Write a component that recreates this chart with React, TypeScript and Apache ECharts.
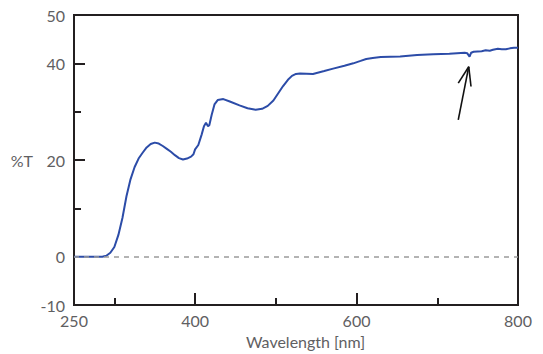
import React, { useEffect, useRef } from "react";
import * as echarts from "echarts";

const wavelengths = [
  250, 270, 285, 290, 295, 300, 305, 310, 315, 320, 325, 330, 335, 340, 345, 350,
  355, 360, 365, 370, 375, 380, 385, 390, 395, 398, 400, 404, 408, 411, 413.5, 416,
  417.6, 420.5, 424, 428, 435, 443, 455, 465, 475, 483, 490, 497, 503, 509, 515, 520,
  525, 530, 546, 560, 571, 585, 596, 605, 612, 620, 630, 654, 675, 695, 715, 734,
  737, 740, 742, 745, 755, 760, 765, 769, 775, 780, 785, 790, 795, 800,
];
const transmittance = [
  0, 0, 0, 0.2, 0.8, 2, 4.5, 8, 12.5, 16, 18.5, 20.3, 21.5, 22.6, 23.3, 23.6,
  23.4, 22.9, 22.3, 21.7, 21, 20.4, 20.1, 20.3, 20.7, 21.2, 22.2, 23.1, 25.2, 27, 27.7, 27.0,
  27.2, 29.3, 31.5, 32.4, 32.6, 32.1, 31.3, 30.7, 30.4, 30.6, 31.2, 32.3, 33.8, 35.3, 36.6, 37.4,
  37.8, 37.9, 37.8, 38.4, 38.9, 39.5, 40.0, 40.5, 40.9, 41.1, 41.3, 41.4, 41.7, 41.9, 42.0, 42.2,
  42.1, 41.4, 42.2, 42.4, 42.5, 42.7, 42.6, 42.8, 43.0, 42.9, 42.9, 43.1, 43.2, 43.2,
];

const xLabels = [250, 400, 600, 800];
const xMajorTicks = [400, 600];
const xMinorTicks = [300, 500, 700];
const yLabels = [-10, 0, 20, 40, 50];
const yMajorTicks = [20, 40];
const yMinorTicks = [10, 30];

// annotation arrow: shaft tail, tip, and two head wings (data coords)
const arrowTail = [726, 28.3];
const arrowTip = [739, 39.3];
const arrowWingL = [726, 35.9];
const arrowWingR = [741.8, 35.2];

const AXIS = "#231f20";
const TEXT = "#5f6062";
const FONT = "Lato";

export default function App() {
  const ref = useRef<HTMLDivElement>(null);
  useEffect(() => {
    if (!ref.current) return;
    const chart = echarts.init(ref.current, undefined, { renderer: "svg" });
    const data = wavelengths.map((w, i) => [w, transmittance[i]]);
    chart.setOption({
      animation: false,
      grid: {
        left: 74,
        right: 25,
        top: 15,
        bottom: 49,
        show: true,
        borderColor: AXIS,
        borderWidth: 2,
      },
      xAxis: [
        {
          type: "value",
          min: 250,
          max: 800,
          interval: 50,
          position: "bottom",
          axisLine: { show: true, onZero: false, lineStyle: { color: AXIS, width: 2 } },
          splitLine: { show: false },
          axisTick: {
            show: true,
            inside: true,
            length: 12,
            customValues: xMajorTicks,
            lineStyle: { color: AXIS, width: 2 },
          },
          axisLabel: {
            customValues: xLabels,
            color: TEXT,
            fontFamily: FONT,
            fontSize: 16,
            margin: 7,
          },
          name: "Wavelength [nm]",
          nameLocation: "middle",
          nameGap: 28,
          nameTextStyle: { color: TEXT, fontFamily: FONT, fontSize: 16, padding: [0, 0, 0, 19] },
        },
        {
          type: "value",
          min: 250,
          max: 800,
          interval: 50,
          position: "bottom",
          axisLine: { show: false, onZero: false },
          splitLine: { show: false },
          axisLabel: { show: false },
          axisTick: {
            show: true,
            inside: true,
            length: 7,
            customValues: xMinorTicks,
            lineStyle: { color: AXIS, width: 2 },
          },
        },
      ],
      yAxis: [
        {
          type: "value",
          min: -10,
          max: 50,
          interval: 10,
          axisLine: { show: true, onZero: false, lineStyle: { color: AXIS, width: 2 } },
          splitLine: { show: false },
          axisTick: {
            show: true,
            inside: true,
            length: 11,
            customValues: yMajorTicks,
            lineStyle: { color: AXIS, width: 2 },
          },
          axisLabel: {
            customValues: yLabels,
            color: TEXT,
            fontFamily: FONT,
            fontSize: 16,
            margin: 9,
          },
          name: "%T",
          nameLocation: "middle",
          nameRotate: 0,
          nameGap: 41,
          nameTextStyle: { color: TEXT, fontFamily: FONT, fontSize: 16 },
        },
        {
          type: "value",
          min: -10,
          max: 50,
          interval: 10,
          position: "left",
          axisLine: { show: false, onZero: false },
          splitLine: { show: false },
          axisLabel: { show: false },
          axisTick: {
            show: true,
            inside: true,
            length: 7,
            customValues: yMinorTicks,
            lineStyle: { color: AXIS, width: 2 },
          },
        },
      ],
      series: [
        {
          type: "line",
          data,
          showSymbol: false,
          symbol: "none",
          lineStyle: { color: "#2c4ca8", width: 2 },
          z: 3,
          markLine: {
            silent: true,
            symbol: ["none", "none"],
            label: { show: false },
            data: [
              {
                yAxis: 0,
                lineStyle: { color: "#9a9a9a", width: 1.5, type: [5, 5] },
              },
              [
                { coord: arrowTail, lineStyle: { color: "#111", width: 1.6, type: "solid" } },
                { coord: arrowTip },
              ],
              [
                { coord: arrowWingL, lineStyle: { color: "#111", width: 1.6, type: "solid" } },
                { coord: arrowTip },
              ],
              [
                { coord: arrowWingR, lineStyle: { color: "#111", width: 1.6, type: "solid" } },
                { coord: arrowTip },
              ],
            ],
          },
        },
      ],
    });
    return () => chart.dispose();
  }, []);
  return (
    <div
      ref={ref}
      style={{ position: "fixed", left: 0, top: 0, width: 543, height: 354, background: "#fff" }}
    />
  );
}
